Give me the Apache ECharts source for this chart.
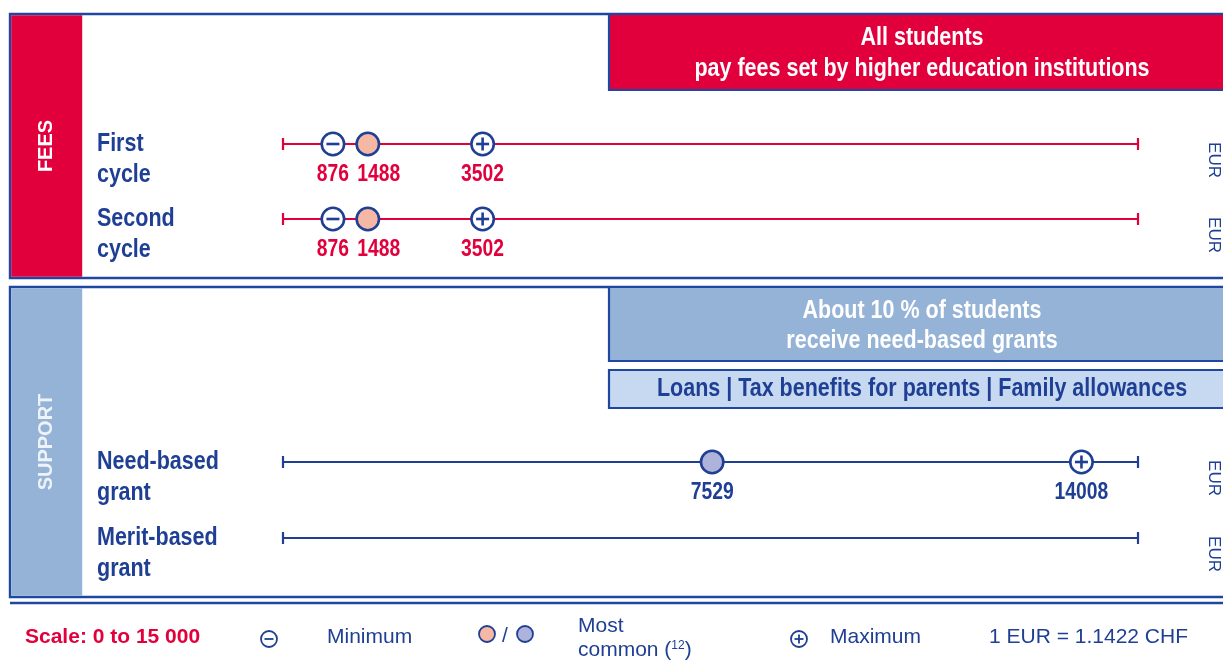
<!DOCTYPE html>
<html>
<head>
<meta charset="utf-8">
<script src="https://cdn.jsdelivr.net/npm/echarts@6/dist/echarts.min.js"></script>
<style>
  html, body { margin: 0; padding: 0; background: #ffffff; }
  #chart { width: 1223px; height: 662px; }
</style>
</head>
<body>
<div id="chart"></div>
<script>
// ---- data ----
const categories = ['First\ncycle', 'Second\ncycle', 'Need-based\ngrant', 'Merit-based\ngrant'];
const sections = ['FEES', 'FEES', 'SUPPORT', 'SUPPORT'];
const minimumValues = [876, 876, null, null];
const commonValues = [1488, 1488, 7529, null];
const maximumValues = [3502, 3502, 14008, null];
const scaleRange = [0, 15000];
const unitLabel = 'EUR';
const feesBanner = ['All students', 'pay fees set by higher education institutions'];
const supportBanner = ['About 10 % of students', 'receive need-based grants'];
const supportOptions = 'Loans | Tax benefits for parents | Family allowances';
const legendTexts = {
  scale: 'Scale: 0 to 15 000',
  minimum: 'Minimum',
  common: ['Most', 'common ({sup|12})'],
  maximum: 'Maximum',
  rate: '1 EUR = 1.1422 CHF'
};

// ---- styling / layout ----
const NAVY = '#1f3f94';
const BORDER = '#1d47a0';
const RED = '#e2003c';
const SKY = '#95b3d7';
const PALE = '#c6d9f0';
const PEACH = '#f4b8a5';
const LAVENDER = '#aeb3dc';
const ARIAL = '"Liberation Sans", Arial, sans-serif';
const NARROW_SCALE = 0.86;   // condensed look from a horizontally squeezed sans
const rowCenters = [144, 219, 462, 538];
const lineLeft = 283, lineRight = 85;

const sectionColor = s => (s === 'FEES' ? RED : NAVY);
const commonFill = s => (s === 'FEES' ? PEACH : LAVENDER);

const grids = [], xAxes = [], yAxes = [], series = [];

categories.forEach((cat, i) => {
  const color = sectionColor(sections[i]);
  grids.push({ left: lineLeft, right: lineRight, top: rowCenters[i] - 20, height: 40 });
  xAxes.push({ gridIndex: i, type: 'value', min: scaleRange[0], max: scaleRange[1], show: false });
  yAxes.push({ gridIndex: i, type: 'value', min: -1, max: 1, show: false });

  // the scale line with end caps
  series.push({
    type: 'line', xAxisIndex: i, yAxisIndex: i, silent: true,
    data: scaleRange.map(v => [v, 0]),
    symbol: 'rect', symbolSize: [2.2, 12], showSymbol: true,
    itemStyle: { color: color }, lineStyle: { color: color, width: 2.2 },
    z: 2, animation: false
  });

  // markers: kind 0 = minimum, 1 = most common, 2 = maximum
  const pts = [];
  if (minimumValues[i] != null) pts.push([minimumValues[i], 0, 0]);
  if (commonValues[i] != null) pts.push([commonValues[i], 0, 1]);
  if (maximumValues[i] != null) pts.push([maximumValues[i], 0, 2]);
  const minVal = minimumValues[i];

  series.push({
    type: 'custom', xAxisIndex: i, yAxisIndex: i, silent: true, animation: false, z: 3,
    data: pts,
    renderItem: function (params, api) {
      const v = api.value(0), kind = api.value(2);
      const p = api.coord([v, 0]);
      const cx = p[0], cy = p[1];
      const r = 11.2;
      const children = [{
        type: 'circle', shape: { cx: cx, cy: cy, r: r },
        style: { fill: kind === 1 ? commonFill(sections[i]) : '#ffffff', stroke: NAVY, lineWidth: 2.6 }
      }];
      if (kind !== 1) {
        children.push({ type: 'line', shape: { x1: cx - 6.5, y1: cy, x2: cx + 6.5, y2: cy },
          style: { stroke: NAVY, lineWidth: 2.6 } });
      }
      if (kind === 2) {
        children.push({ type: 'line', shape: { x1: cx, y1: cy - 6.5, x2: cx, y2: cy + 6.5 },
          style: { stroke: NAVY, lineWidth: 2.6 } });
      }
      // push the "most common" label aside when the minimum sits close by
      let dx = 0;
      if (kind === 1 && minVal != null && Math.abs(cx - api.coord([minVal, 0])[0]) < 50) dx = 11;
      children.push({
        type: 'text', x: cx + dx, y: cy + 31, scaleX: 0.84,
        style: { text: String(v), align: 'center', verticalAlign: 'middle',
          font: 'bold 23px ' + ARIAL, fill: color }
      });
      return { type: 'group', children: children };
    }
  });
});

// ---- static frame, banners, row labels and key ----
const graphics = [];
function rect(x, y, w, h, fill, stroke, lw) {
  graphics.push({ type: 'rect', shape: { x: x, y: y, width: w, height: h },
    style: { fill: fill || 'none', stroke: stroke || null, lineWidth: lw || 0 }, z: 0, silent: true });
}
function text(t, x, y, font, fill, align, extra, sx) {
  graphics.push({ type: 'text', x: x, y: y, z: 5, silent: true, scaleX: sx || 1,
    style: Object.assign({ text: t, font: font, fill: fill, align: align || 'left', verticalAlign: 'middle' }, (extra || {})) });
}

// section panels
rect(10, 14, 1240, 264, '#ffffff', BORDER, 2.4);
rect(11.2, 15.2, 71, 261.6, RED);
rect(10, 287, 1240, 310, '#ffffff', BORDER, 2.4);
rect(11.2, 288.2, 71, 307.6, SKY);

// banners
rect(609, 14, 640, 76, RED, BORDER, 2.2);
rect(609, 287, 640, 74, SKY, BORDER, 2.2);
rect(609, 370, 640, 38, PALE, BORDER, 2.2);

const bannerFont = 'bold 25px ' + ARIAL;
text(feesBanner[0], 922, 38, bannerFont, '#ffffff', 'center', null, NARROW_SCALE);
text(feesBanner[1], 922, 69, bannerFont, '#ffffff', 'center', null, NARROW_SCALE);
text(supportBanner[0], 922, 311, bannerFont, '#ffffff', 'center', null, NARROW_SCALE);
text(supportBanner[1], 922, 341, bannerFont, '#ffffff', 'center', null, NARROW_SCALE);
text(supportOptions, 922, 389, bannerFont, NAVY, 'center', null, NARROW_SCALE);

// rotated section titles
graphics.push({ type: 'text', x: 46, y: 146, rotation: Math.PI / 2, z: 5, silent: true,
  style: { text: 'FEES', font: 'bold 20px ' + ARIAL, fill: '#ffffff', align: 'center', verticalAlign: 'middle' } });
graphics.push({ type: 'text', x: 46, y: 442, rotation: Math.PI / 2, z: 5, silent: true,
  style: { text: 'SUPPORT', font: 'bold 20px ' + ARIAL, fill: '#eef3fa', align: 'center', verticalAlign: 'middle' } });

// row labels and unit tags
categories.forEach((cat, i) => {
  cat.split('\n').forEach((line, k) => {
    text(line, 97, rowCenters[i] + k * 31, 'bold 25px ' + ARIAL, NAVY, 'left', null, NARROW_SCALE);
  });
  graphics.push({ type: 'text', x: 1214, y: rowCenters[i] + 16, rotation: -Math.PI / 2, z: 5, silent: true,
    style: { text: unitLabel, font: '17px ' + ARIAL, fill: NAVY, align: 'center', verticalAlign: 'middle' } });
});

// separator above the key
graphics.push({ type: 'line', shape: { x1: 10, y1: 603, x2: 1223, y2: 603 },
  style: { stroke: BORDER, lineWidth: 2.4 }, silent: true });

// key
const keyY = 637;
text(legendTexts.scale, 25, keyY, 'bold 21px ' + ARIAL, RED, 'left');
function keyIcon(cx, cy, fill, sign) {
  graphics.push({ type: 'circle', shape: { cx: cx, cy: cy, r: 8 },
    style: { fill: fill, stroke: NAVY, lineWidth: 1.8 }, z: 5, silent: true });
  if (sign) {
    graphics.push({ type: 'line', shape: { x1: cx - 4.5, y1: cy, x2: cx + 4.5, y2: cy },
      style: { stroke: NAVY, lineWidth: 1.8 }, z: 6, silent: true });
    if (sign === '+') graphics.push({ type: 'line', shape: { x1: cx, y1: cy - 4.5, x2: cx, y2: cy + 4.5 },
      style: { stroke: NAVY, lineWidth: 1.8 }, z: 6, silent: true });
  }
}
keyIcon(269, 639, '#ffffff', '-');
text(legendTexts.minimum, 327, keyY, '21px ' + ARIAL, NAVY, 'left');
keyIcon(487, 634, PEACH, null);
text('/', 505, 636, '21px ' + ARIAL, NAVY, 'center');
keyIcon(525, 634, LAVENDER, null);
text(legendTexts.common[0], 578, 626, '21px ' + ARIAL, NAVY, 'left');
text(legendTexts.common[1], 578, 650, '21px ' + ARIAL, NAVY, 'left',
  { rich: { sup: { fontSize: 12, fontFamily: ARIAL, fill: NAVY, padding: [0, 0, 9, 0] } } });
keyIcon(799, 639, '#ffffff', '+');
text(legendTexts.maximum, 830, keyY, '21px ' + ARIAL, NAVY, 'left');
text(legendTexts.rate, 989, keyY, '21px ' + ARIAL, NAVY, 'left');

const chart = echarts.init(document.getElementById('chart'), null, { renderer: 'canvas' });
chart.setOption({
  backgroundColor: '#ffffff',
  animation: false,
  grid: grids,
  xAxis: xAxes,
  yAxis: yAxes,
  series: series,
  graphic: { elements: graphics }
});
</script>
</body>
</html>
